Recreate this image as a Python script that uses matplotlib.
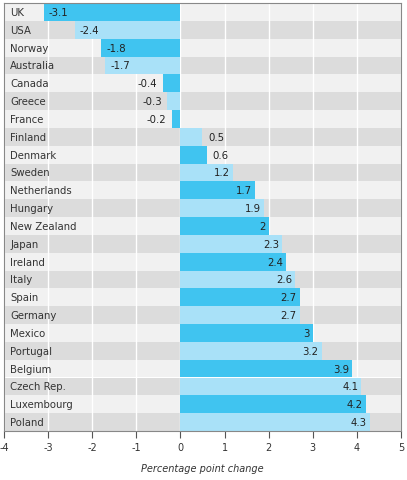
import matplotlib
matplotlib.use("Agg")
import matplotlib.pyplot as plt

countries = ["UK", "USA", "Norway", "Australia", "Canada", "Greece", "France",
             "Finland", "Denmark", "Sweden", "Netherlands", "Hungary",
             "New Zealand", "Japan", "Ireland", "Italy", "Spain", "Germany",
             "Mexico", "Portugal", "Belgium", "Czech Rep.", "Luxembourg", "Poland"]
values = [-3.1, -2.4, -1.8, -1.7, -0.4, -0.3, -0.2, 0.5, 0.6, 1.2, 1.7, 1.9,
          2, 2.3, 2.4, 2.6, 2.7, 2.7, 3, 3.2, 3.9, 4.1, 4.2, 4.3]
xticks = [-4, -3, -2, -1, 0, 1, 2, 3, 4, 5]

DARK = "#40c4f0"
LIGHT = "#a9e1f8"
ROW_GRAY = "#dcdcdc"
ROW_LIGHT = "#f1f1f1"

fig = plt.figure(figsize=(4.07, 4.81), dpi=100)
ax = fig.add_axes([4 / 407, 49 / 481, 397 / 407, 428 / 481])

n = len(countries)
ax.set_xlim(-4, 5)
ax.set_ylim(n - 0.5, -0.5)

# alternating row backgrounds
for i in range(n):
    ax.axhspan(i - 0.5, i + 0.5, color=ROW_LIGHT if i % 2 == 0 else ROW_GRAY,
               lw=0, zorder=0)
for x in xticks:
    ax.axvline(x, color="white", lw=1.0, zorder=1)

colors = [DARK if i % 2 == 0 else LIGHT for i in range(n)]
ax.barh(range(n), values, height=1.0, color=colors, lw=0, zorder=2)

for i, (c, v) in enumerate(zip(countries, values)):
    ax.text(-3.86, i, c, ha="left", va="center", fontsize=7.3, color="#333333", zorder=3)
    lab = f"{v:g}"
    # long bars get the label inside, short ones just outside the end
    if abs(v) >= 1:
        if v > 0:
            ax.text(v - 0.07, i, lab, ha="right", va="center", fontsize=7.3,
                    color="#222222", zorder=3)
        else:
            ax.text(v + 0.12, i, lab, ha="left", va="center", fontsize=7.3,
                    color="#222222", zorder=3)
    else:
        if v > 0:
            ax.text(v + 0.13, i, lab, ha="left", va="center", fontsize=7.3,
                    color="#222222", zorder=3)
        else:
            ax.text(v - 0.12, i, lab, ha="right", va="center", fontsize=7.3,
                    color="#222222", zorder=3)

ax.set_xticks(xticks)
ax.set_xticklabels([str(x) for x in xticks], fontsize=7, color="#333333")
ax.set_yticks([])
ax.tick_params(axis="x", direction="out", length=5, width=0.8, color="#555555", pad=3)
for s in ax.spines.values():
    s.set_color("#888888")
    s.set_linewidth(0.8)
ax.set_xlabel("Percentage point change", fontsize=7, style="italic",
              color="#333333", labelpad=8)

fig.savefig("out.png", dpi=100)
